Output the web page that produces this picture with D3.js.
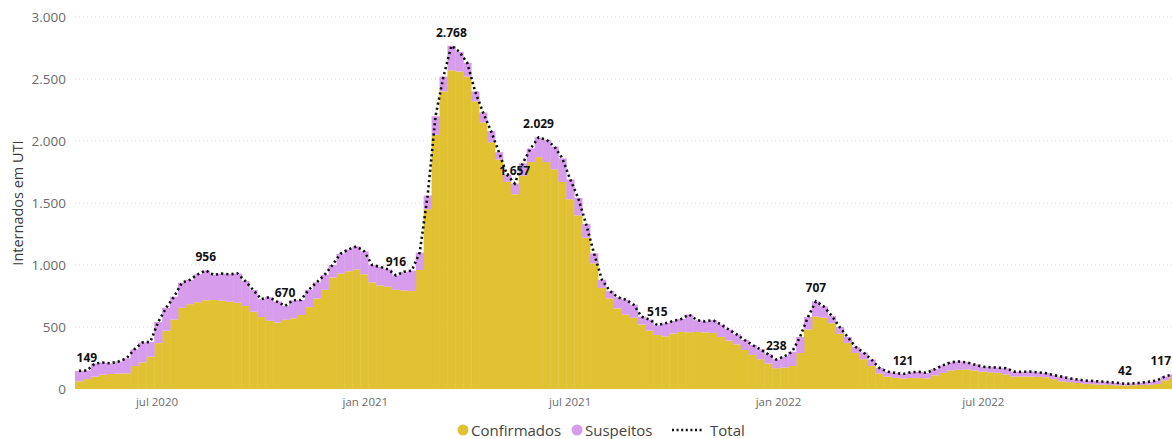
<!DOCTYPE html>
<html>
<head>
<meta charset="utf-8">
<script src="https://cdn.jsdelivr.net/npm/d3@7/dist/d3.min.js"></script>
<style>
  html, body { margin: 0; padding: 0; background: #fff; }
  svg { display: block; font-family: "Open Sans", "Noto Sans", sans-serif; }
</style>
</head>
<body>
<svg id="chart" width="1172" height="439"></svg>
<script>
// Weekly ICU occupancy, weeks starting on the dates below
const firstWeek = "2020-04-20";
const weekCount = 139;

const confirmados = [
  62, 80, 100, 115, 121, 124, 126, 185, 215, 260,
  370, 470, 560, 655, 684, 700, 716, 718, 712, 704,
  696, 670, 623, 580, 550, 536, 558, 570, 597, 660,
  730, 800, 900, 930, 950, 965, 925, 860, 835, 825,
  800, 795, 790, 960, 1450, 2050, 2400, 2570, 2560, 2520,
  2320, 2150, 1990, 1850, 1670, 1570, 1720, 1830, 1870, 1830,
  1770, 1670, 1530, 1400, 1220, 1013, 815, 730, 650, 600,
  575, 520, 470, 435, 425, 447, 460, 458, 460, 456,
  452, 420, 390, 360, 315, 275, 240, 205, 168, 172,
  185, 290, 480, 585, 575, 530, 445, 370, 290, 240,
  185, 125, 100, 90, 86, 88, 88, 86, 110, 130,
  150, 155, 158, 150, 140, 135, 130, 118, 100, 100,
  100, 98, 95, 80, 62, 55, 48, 42, 38, 35,
  33, 30, 28, 30, 32, 34, 40, 70, 90
];

const suspeitos = [
  84, 69, 105, 98, 86, 98, 121, 135, 160, 120,
  170, 185, 185, 203, 196, 225, 240, 202, 218, 221,
  236, 200, 175, 145, 190, 169, 112, 145, 121, 140,
  130, 120, 100, 160, 175, 185, 185, 140, 150, 140,
  116, 150, 165, 140, 110, 150, 120, 198, 160, 110,
  80, 80, 90, 60, 60, 87, 100, 110, 159, 180,
  185, 190, 160, 140, 110, 81, 65, 60, 90, 120,
  105, 63, 90, 80, 105, 101, 105, 142, 95, 89,
  103, 100, 90, 80, 80, 80, 80, 75, 70, 90,
  115, 130, 100, 122, 90, 60, 55, 50, 50, 55,
  53, 45, 40, 40, 35, 47, 50, 44, 50, 60,
  65, 67, 57, 48, 40, 41, 42, 49, 40, 38,
  40, 36, 33, 32, 38, 31, 28, 26, 26, 25,
  22, 20, 14, 15, 18, 24, 28, 30, 27
];

// Weeks whose total is written above the line
const labelledWeeks = [
  "2020-04-27", "2020-08-10", "2020-10-19", "2021-01-25", "2021-03-15",
  "2021-05-10", "2021-05-31", "2021-09-13", "2021-12-27", "2022-01-31",
  "2022-04-18", "2022-10-31", "2022-12-12"
];

const yTicks = [0, 500, 1000, 1500, 2000, 2500, 3000];
const xTickDates = ["2020-07-01", "2021-01-01", "2021-07-01", "2022-01-01", "2022-07-01"];
const monthNames = ["jan", "fev", "mar", "abr", "mai", "jun", "jul", "ago", "set", "out", "nov", "dez"];

const seriesNames = ["Confirmados", "Suspeitos", "Total"];
const colors = { Confirmados: "#E1C232", Suspeitos: "#D79DEC", Total: "#111" };

const parse = d3.utcParse("%Y-%m-%d");
const start = parse(firstWeek);
const weeks = d3.range(weekCount).map(i => {
  const d = d3.utcDay.offset(start, 7 * i);
  return { date: d, end: d3.utcDay.offset(d, 7), conf: confirmados[i], susp: suspeitos[i], total: confirmados[i] + suspeitos[i] };
});

const W = 1172;
const svg = d3.select("#chart");
const plotLeft = 75, plotTop = 17, plotBottom = 389;
const pxPerDay = 1.132;
const endDate = weeks[weeks.length - 1].end;
const x = d3.scaleUtc()
  .domain([start, endDate])
  .range([plotLeft, plotLeft + pxPerDay * d3.utcDay.count(start, endDate)]);
const y = d3.scaleLinear().domain([0, 3000]).range([plotBottom, plotTop]);

// grid
svg.append("g").selectAll("line").data(yTicks.filter(t => t > 0)).join("line")
  .attr("x1", plotLeft).attr("x2", W)
  .attr("y1", d => y(d)).attr("y2", d => y(d))
  .attr("stroke", "#d4d4d4").attr("stroke-width", 1)
  .attr("stroke-dasharray", "1,3");

// y axis
const yAxis = d3.axisLeft(y).tickValues(yTicks).tickSize(0).tickPadding(0)
  .tickFormat(d => d3.format(",")(d).replace(/,/g, "."));
const gy = svg.append("g").attr("transform", `translate(${plotLeft - 9},0)`).call(yAxis);
gy.select(".domain").remove();
gy.selectAll("text").attr("fill", "#6b6b6b").attr("font-size", 13.5)
  .attr("font-family", "'Open Sans', sans-serif");

svg.append("text")
  .attr("transform", `translate(23,203) rotate(-90)`)
  .attr("text-anchor", "middle")
  .attr("fill", "#3a3a3a").attr("font-size", 14.5)
  .text("Internados em UTI");

// x axis
const xAxis = d3.axisBottom(x).tickValues(xTickDates.map(parse)).tickSize(0).tickPadding(0)
  .tickFormat(d => `${monthNames[d.getUTCMonth()]} ${d.getUTCFullYear()}`);
const gx = svg.append("g").attr("transform", `translate(0,${plotBottom + 9})`).call(xAxis);
gx.select(".domain").remove();
gx.selectAll("text").attr("fill", "#6b6b6b").attr("font-size", 11.5)
  .attr("font-family", "'Open Sans', sans-serif");

// stacked bars
const stack = d3.stack().keys(["conf", "susp"])(weeks);
const plot = svg.append("g");
stack.forEach((layer, li) => {
  plot.append("g").selectAll("rect").data(layer).join("rect")
    .attr("x", d => x(d.data.date))
    .attr("width", d => x(d.data.end) - x(d.data.date) + 0.4)
    .attr("y", d => y(d[1]))
    .attr("height", d => y(d[0]) - y(d[1]))
    .attr("fill", li === 0 ? colors.Confirmados : colors.Suspeitos);
});

// total line
const mid = d => new Date((d.date.getTime() + d.end.getTime()) / 2);
const line = d3.line().x(d => x(mid(d))).y(d => y(d.total));
svg.append("path").datum(weeks)
  .attr("d", line)
  .attr("fill", "none")
  .attr("stroke", colors.Total)
  .attr("stroke-width", 2.6)
  .attr("stroke-dasharray", "2.2,3");

// data labels (kept inside the right edge)
const labelSet = new Set(labelledWeeks);
const fmt = v => d3.format(",")(v).replace(/,/g, ".");
svg.append("g").selectAll("text")
  .data(weeks.filter(d => labelSet.has(d3.utcFormat("%Y-%m-%d")(d.date))))
  .join("text")
  .attr("x", d => x(mid(d)))
  .attr("y", d => y(d.total) - 9)
  .attr("text-anchor", "middle")
  .attr("font-size", 12).attr("font-weight", 700)
  .attr("fill", "#111")
  .text(d => fmt(d.total))
  .each(function() {
    const b = this.getBBox();
    if (b.x + b.width > W - 1) {
      d3.select(this).attr("text-anchor", "end").attr("x", W - 1);
    }
  });

// legend
const legend = svg.append("g").attr("font-size", 15).attr("fill", "#444");
const lg = [
  { name: seriesNames[0], type: "dot", color: colors.Confirmados, x: 463 },
  { name: seriesNames[1], type: "dot", color: colors.Suspeitos, x: 577 },
  { name: seriesNames[2], type: "line", color: colors.Total, x: 672 }
];
lg.forEach(item => {
  if (item.type === "dot") {
    legend.append("circle").attr("cx", item.x).attr("cy", 430).attr("r", 5.5).attr("fill", item.color);
    legend.append("text").attr("x", item.x + 8).attr("y", 435.5).attr("fill", "#444").text(item.name);
  } else {
    legend.append("line").attr("x1", item.x).attr("x2", item.x + 32).attr("y1", 430).attr("y2", 430)
      .attr("stroke", item.color).attr("stroke-width", 2.4).attr("stroke-dasharray", "2,2.6");
    legend.append("text").attr("x", item.x + 38).attr("y", 435.5).attr("fill", "#444").text(item.name);
  }
});
</script>
</body>
</html>
